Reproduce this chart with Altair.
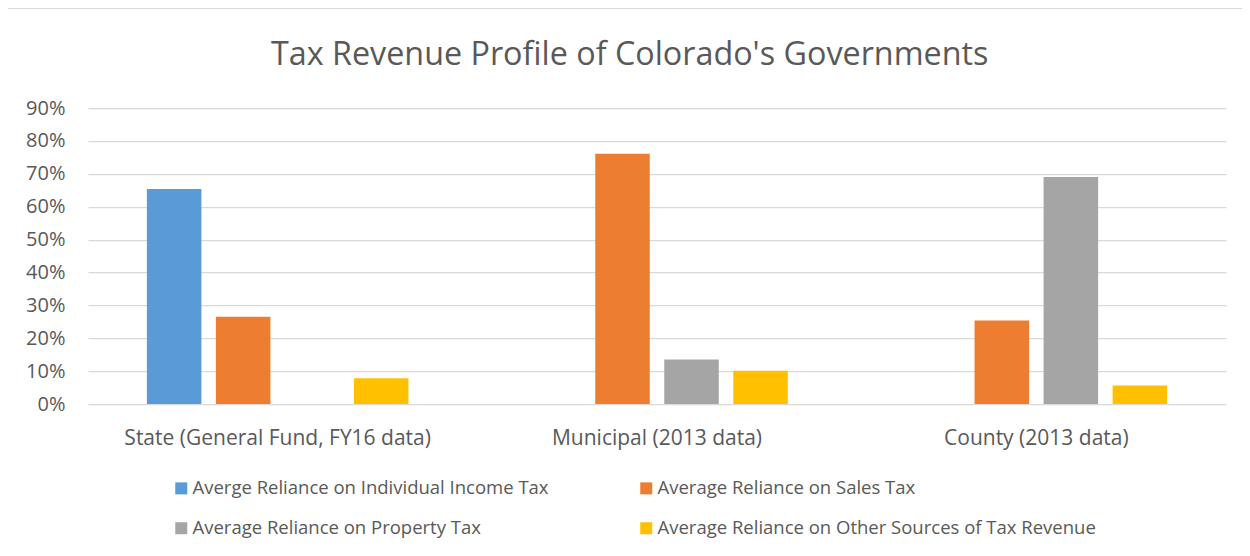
import altair as alt
import pandas as pd

categories = ["State (General Fund, FY16 data)", "Municipal (2013 data)", "County (2013 data)"]
series = [
    "Averge Reliance on Individual Income Tax",
    "Average Reliance on Sales Tax",
    "Average Reliance on Property Tax",
    "Average Reliance on Other Sources of Tax Revenue",
]
income = [0.654, None, None]
sales = [0.265, 0.761, 0.254]
property_tax = [None, 0.135, 0.690]
other = [0.078, 0.101, 0.056]
colors = ["#5B9BD5", "#ED7D31", "#A5A5A5", "#FFC000"]
y_ticks = [0, 0.1, 0.2, 0.3, 0.4, 0.5, 0.6, 0.7, 0.8, 0.9]
title_text = "Tax Revenue Profile of Colorado's Governments"

rows = []
for s, vals in zip(series, [income, sales, property_tax, other]):
    for c, v in zip(categories, vals):
        if v is not None:
            rows.append({"category": c, "series": s, "value": v})
df = pd.DataFrame(rows)

FONT = "Open Sans"
TXT = "#595959"

bars = alt.Chart(df).mark_bar().encode(
    x=alt.X(
        "category:N",
        sort=categories,
        scale=alt.Scale(domain=categories, paddingInner=0, paddingOuter=0),
        axis=alt.Axis(
            title=None, labelAngle=0, ticks=False, tickSize=0, domain=False, grid=False,
            labelFont=FONT, labelFontSize=21, labelColor=TXT, labelLimit=0,
            labelPadding=40, labelBaseline="alphabetic",
        ),
    ),
    xOffset=alt.XOffset(
        "series:N",
        sort=series,
        scale=alt.Scale(domain=series, paddingInner=0.21, paddingOuter=0.853),
    ),
    y=alt.Y(
        "value:Q",
        scale=alt.Scale(domain=[0, 0.9], nice=False),
        axis=alt.Axis(
            values=y_ticks, format=".0%", title=None, ticks=False, tickSize=0, domain=False,
            gridColor="#D9D9D9", gridWidth=1.25,
            labelFont=FONT, labelFontSize=20, labelColor=TXT, labelPadding=23,
        ),
    ),
    color=alt.Color(
        "series:N",
        sort=series,
        scale=alt.Scale(domain=series, range=colors),
        legend=alt.Legend(
            title=None, orient="none", legendX=84, legendY=371, columns=2,
            direction="horizontal",
            symbolType="square", symbolSize=144, symbolStrokeWidth=0, symbolOpacity=1,
            labelFont=FONT, labelFontSize=18.5, labelColor=TXT, labelOffset=2, labelLimit=0,
            columnPadding=88, rowPadding=21,
        ),
    ),
)

title = alt.Chart(alt.Data(values=[{"t": title_text}])).mark_text(
    font=FONT, fontSize=32.3, color=TXT, align="center", baseline="alphabetic"
).encode(text="t:N", x=alt.value(541.7), y=alt.value(-43))

border = alt.Chart(alt.Data(values=[{"a": 1}])).mark_rect(
    fill=None, stroke="#D9D9D9", strokeWidth=1
).encode(
    x=alt.value(-80.5), x2=alt.value(1160), y=alt.value(-99.5), y2=alt.value(460)
)

chart = alt.layer(border, title, bars).properties(
    width=1138,
    height=296,
    padding={"left": 80, "top": 100, "right": 16, "bottom": 144},
    autosize="none",
).configure(background="white").configure_view(stroke=None)

chart.save("out.html", embed_options={"renderer": "svg", "actions": False})
